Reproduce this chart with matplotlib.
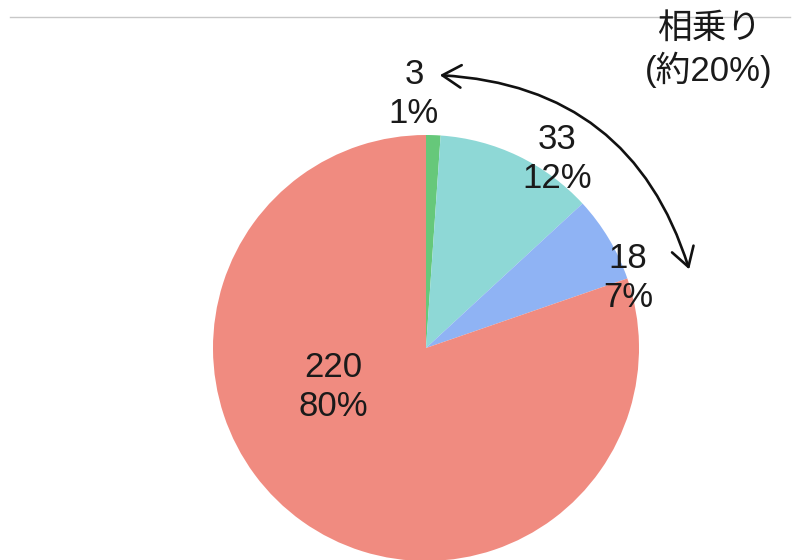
import matplotlib.pyplot as plt
from matplotlib.patches import FancyArrowPatch

# slice values, clockwise from 12 o'clock
counts = [3, 33, 18, 220]
percents = ["1%", "12%", "7%", "80%"]
colors = ["#66c87a", "#8ed8d6", "#8fb3f4", "#f08b80"]
label_pos = [(414, 94), (557, 159), (628, 278), (333, 387)]

plt.rcParams['font.family'] = ['Liberation Sans', 'Noto Sans CJK JP', 'DejaVu Sans']

W, H = 797, 560
fig = plt.figure(figsize=(W / 100, H / 100), dpi=100)
ax = fig.add_axes([0, 0, 1, 1])

cx, cy, r = 426, H - 348, 213
ax.pie(counts, colors=colors, startangle=90, counterclock=False,
       center=(cx, cy), radius=r, frame=True,
       wedgeprops=dict(linewidth=0))
ax.set_xlim(0, W)
ax.set_ylim(0, H)
ax.axis('off')

for n, p, (x, y) in zip(counts, percents, label_pos):
    ax.text(x, H - y, f"{n}\n{p}", ha='center', va='center',
            fontsize=25, linespacing=1.2, color='#1a1a1a')

# thin rule across the top
ax.plot([10, 790], [H - 17, H - 17], color='#c8c8c8', lw=1)

# carpool share note
ax.text(709, H - 50, "相乗り\n(約20%)", ha='center', va='center',
        fontsize=25, linespacing=1.25, color='#1a1a1a',
        family=['Liberation Sans', 'Noto Sans CJK JP'])

arrow = FancyArrowPatch((437, H - 75), (690, H - 272),
                        connectionstyle="arc3,rad=-0.35",
                        arrowstyle="<->,head_length=0.75,head_width=0.45",
                        mutation_scale=18, lw=1.9, color='#111111')
ax.add_patch(arrow)

fig.savefig("out.png", dpi=100)
